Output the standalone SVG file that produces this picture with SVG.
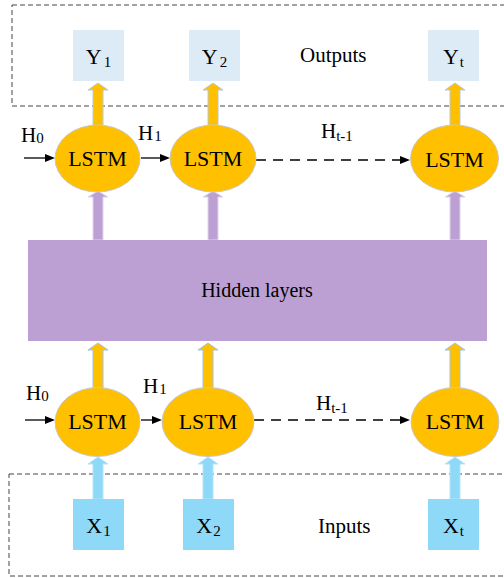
<svg xmlns="http://www.w3.org/2000/svg" width="504" height="578" viewBox="0 0 504 578" style="font-family:'Liberation Serif','Times New Roman',serif">
<rect width="504" height="578" fill="#fff"/>
<g id="outputs-box"><rect x="12" y="5" width="500" height="101" fill="none" stroke="#444" stroke-width="1" stroke-dasharray="5 3"/></g>
<g id="inputs-box"><rect x="9" y="474" width="500" height="102" fill="none" stroke="#444" stroke-width="1" stroke-dasharray="5 3"/></g>

<g id="connectors">
<g fill="#FFC000" stroke="#B8C8D8" stroke-width="1">
<polygon points="93,128 93,90 88,90 98,83 108,90 103,90 103,128"/>
<polygon points="208,128 208,90 203,90 213,83 223,90 218,90 218,128"/>
<polygon points="450,128 450,90 445,90 455,83 465,90 460,90 460,128"/>
</g>
<g fill="#BDA0D3" stroke="#E2D4EC" stroke-width="1">
<polygon points="93,240 93,197 88,197 98,191 108,197 103,197 103,240"/>
<polygon points="208,240 208,197 203,197 213,191 223,197 218,197 218,240"/>
<polygon points="450,240 450,197 445,197 455,191 465,197 460,197 460,240"/>
</g>
<g fill="#FFC000" stroke="#9DC3E6" stroke-width="1">
<polygon points="93,392 93,350 88,350 98,343 108,350 103,350 103,392"/>
<polygon points="203,392 203,350 198,350 208,343 218,350 213,350 213,392"/>
<polygon points="450,392 450,350 445,350 455,343 465,350 460,350 460,392"/>
</g>
<g fill="#8ED8F8" stroke="#B5E4F6" stroke-width="1">
<polygon points="93,499 93,464 88,464 98,457 108,464 103,464 103,499"/>
<polygon points="203,499 203,464 198,464 208,457 218,464 213,464 213,499"/>
<polygon points="450,499 450,464 445,464 455,457 465,464 460,464 460,499"/>
</g>
<g stroke="#000" stroke-width="1.3" fill="none">
<line x1="24" y1="158" x2="46" y2="158"/>
<line x1="141" y1="158" x2="161" y2="158"/>
<line x1="256" y1="160" x2="401" y2="160" stroke-dasharray="10 7"/>
<line x1="25" y1="420" x2="46" y2="420"/>
<line x1="141" y1="420" x2="153" y2="420"/>
<line x1="254" y1="420" x2="401" y2="420" stroke-dasharray="10 7"/>
</g>
<g fill="#000">
<polygon points="45,154 55,158 45,162"/>
<polygon points="160,154 170,158 160,162"/>
<polygon points="400,156 410,160 400,164"/>
<polygon points="45,416 55,420 45,424"/>
<polygon points="152,416 162,420 152,424"/>
<polygon points="400,416 410,420 400,424"/>
</g>
</g>

<g id="Y1"><rect x="73" y="30" width="51" height="51" fill="#DDEBF7"/><text x="98.5" y="64" text-anchor="middle" style="font-family:'Liberation Serif',serif"><tspan font-size="22">Y</tspan><tspan font-size="15" dx="2" dy="3">1</tspan></text></g>
<g id="Y2"><rect x="189" y="30" width="51" height="51" fill="#DDEBF7"/><text x="214.5" y="64" text-anchor="middle" style="font-family:'Liberation Serif',serif"><tspan font-size="22">Y</tspan><tspan font-size="15" dx="2" dy="3">2</tspan></text></g>
<g id="Yt"><rect x="428" y="30" width="51" height="51" fill="#DDEBF7"/><text x="453.5" y="64" text-anchor="middle" style="font-family:'Liberation Serif',serif"><tspan font-size="22">Y</tspan><tspan font-size="15" dx="1" dy="3">t</tspan></text></g>
<g id="outputs-label"><text x="300" y="62" font-size="21" style="font-family:'Liberation Serif',serif">Outputs</text></g>

<g id="h-labels-top">
<text x="21" y="142" style="font-family:'Liberation Serif',serif"><tspan font-size="21">H</tspan><tspan font-size="15" dy="1">0</tspan></text>
<text x="138" y="140" style="font-family:'Liberation Serif',serif"><tspan font-size="21">H</tspan><tspan font-size="15" dx="1" dy="1">1</tspan></text>
<text x="321" y="138" style="font-family:'Liberation Serif',serif"><tspan font-size="21">H</tspan><tspan font-size="15" dy="3">t-1</tspan></text>
</g>

<g id="lstm-top-1"><ellipse cx="97.5" cy="158.5" rx="42.5" ry="33.5" fill="#FFC000" stroke="#C8C8C8"/><text x="97.5" y="166" text-anchor="middle" font-size="22" style="font-family:'Liberation Serif',serif">LSTM</text></g>
<g id="lstm-top-2"><ellipse cx="213" cy="158.5" rx="43" ry="33.5" fill="#FFC000" stroke="#C8C8C8"/><text x="213" y="166" text-anchor="middle" font-size="22" style="font-family:'Liberation Serif',serif">LSTM</text></g>
<g id="lstm-top-t"><ellipse cx="454.5" cy="158.5" rx="44" ry="33.5" fill="#FFC000" stroke="#C8C8C8"/><text x="454.5" y="167" text-anchor="middle" font-size="22" style="font-family:'Liberation Serif',serif">LSTM</text></g>

<g id="hidden-layers"><rect x="28" y="240" width="459" height="101" fill="#BDA0D3"/><text x="257" y="297" text-anchor="middle" font-size="20" style="font-family:'Liberation Serif',serif">Hidden layers</text></g>

<g id="h-labels-bottom">
<text x="26" y="400" style="font-family:'Liberation Serif',serif"><tspan font-size="21">H</tspan><tspan font-size="15" dy="1">0</tspan></text>
<text x="143" y="393" style="font-family:'Liberation Serif',serif"><tspan font-size="21">H</tspan><tspan font-size="15" dx="1" dy="1">1</tspan></text>
<text x="316" y="410" style="font-family:'Liberation Serif',serif"><tspan font-size="21">H</tspan><tspan font-size="15" dy="3">t-1</tspan></text>
</g>

<g id="lstm-bot-1"><ellipse cx="97.5" cy="422" rx="42.5" ry="34.5" fill="#FFC000" stroke="#C8C8C8"/><text x="97.5" y="429" text-anchor="middle" font-size="22" style="font-family:'Liberation Serif',serif">LSTM</text></g>
<g id="lstm-bot-2"><ellipse cx="208" cy="422" rx="46" ry="34.5" fill="#FFC000" stroke="#C8C8C8"/><text x="208" y="429" text-anchor="middle" font-size="22" style="font-family:'Liberation Serif',serif">LSTM</text></g>
<g id="lstm-bot-t"><ellipse cx="455" cy="422" rx="44" ry="34.5" fill="#FFC000" stroke="#C8C8C8"/><text x="455" y="429" text-anchor="middle" font-size="22" style="font-family:'Liberation Serif',serif">LSTM</text></g>

<g id="X1"><rect x="73" y="499" width="51" height="51" fill="#8ED8F8"/><text x="98.5" y="533" text-anchor="middle" style="font-family:'Liberation Serif',serif"><tspan font-size="22">X</tspan><tspan font-size="15" dx="1" dy="3">1</tspan></text></g>
<g id="X2"><rect x="183" y="499" width="51" height="51" fill="#8ED8F8"/><text x="208.5" y="533" text-anchor="middle" style="font-family:'Liberation Serif',serif"><tspan font-size="22">X</tspan><tspan font-size="15" dx="1" dy="3">2</tspan></text></g>
<g id="Xt"><rect x="428" y="499" width="51" height="51" fill="#8ED8F8"/><text x="453.5" y="533" text-anchor="middle" style="font-family:'Liberation Serif',serif"><tspan font-size="22">X</tspan><tspan font-size="15" dx="1" dy="3">t</tspan></text></g>
<g id="inputs-label"><text x="318" y="533" font-size="21" style="font-family:'Liberation Serif',serif">Inputs</text></g>
</svg>
